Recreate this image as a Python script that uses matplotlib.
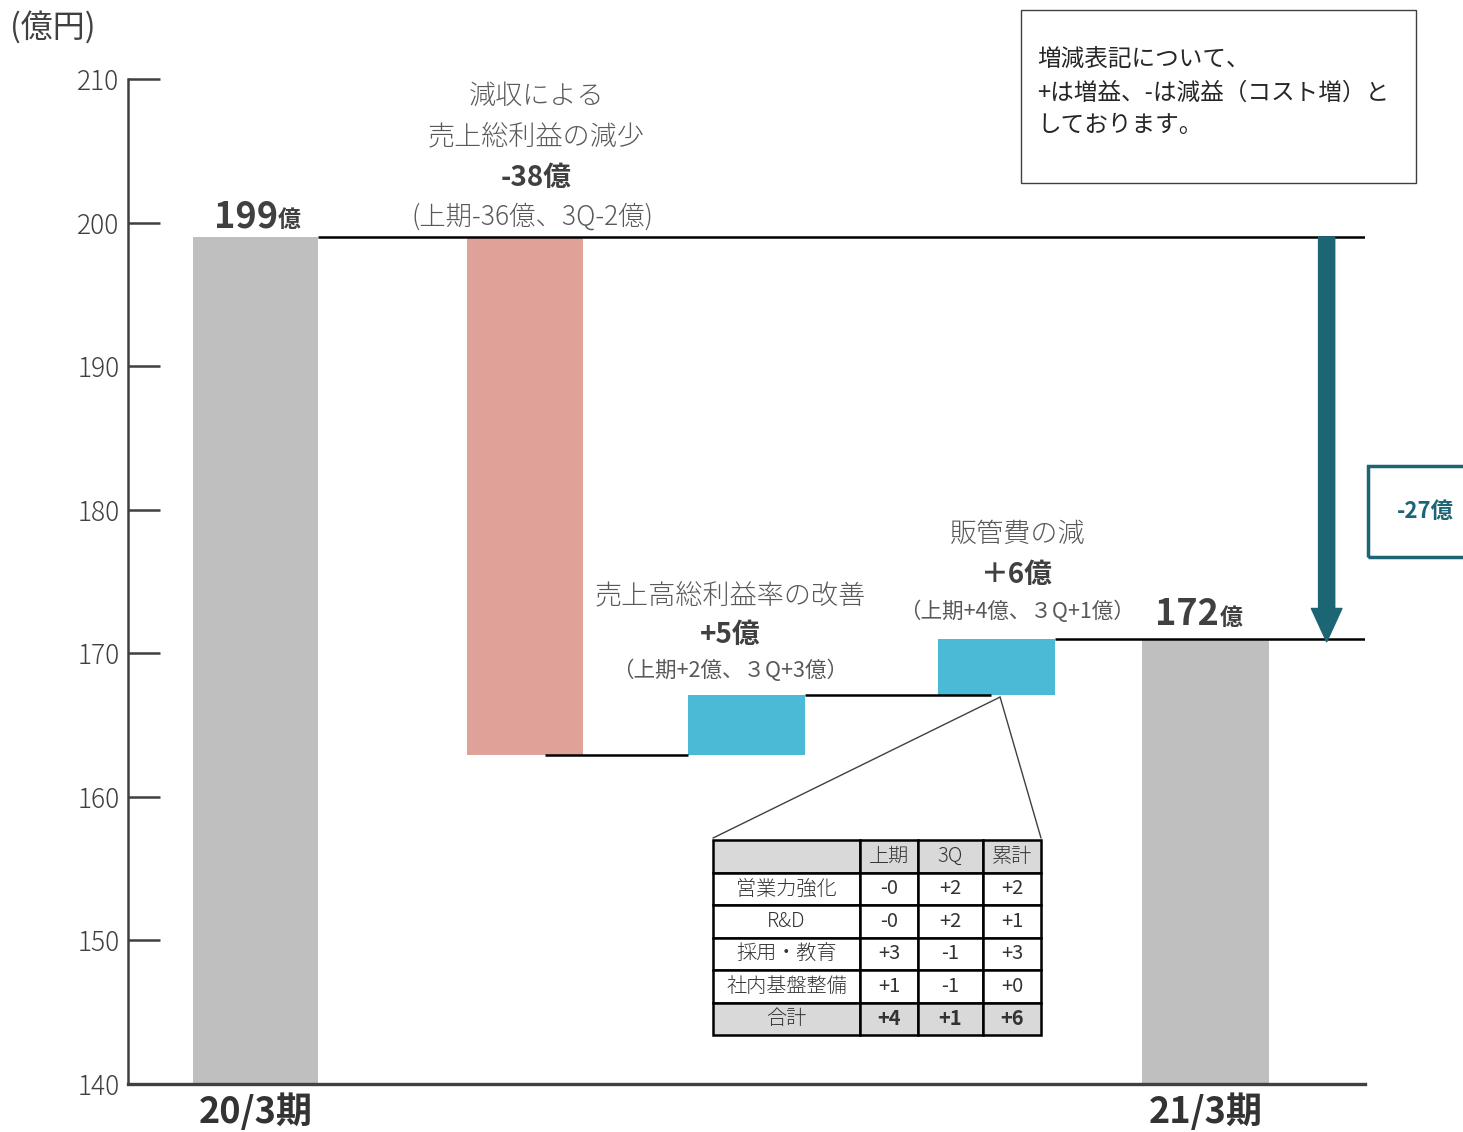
import matplotlib
matplotlib.use('Agg')
import matplotlib.pyplot as plt
from matplotlib.patches import Rectangle, ConnectionPatch

plt.rcParams['font.family'] = ['Noto Sans CJK JP', 'DejaVu Sans']

# data
start_value = 199.0
deltas = [-36.1, 4.2, 3.9]      # drawn heights of the three steps
end_value = 171.0
end_labels = ['199', '172']
period_labels = ['20/3期', '21/3期']
step_titles = [['減収による', '売上総利益の減少'], ['売上高総利益率の改善'], ['販管費の減']]
step_values = ['-38億', '+5億', '＋6億']
step_details = ['(上期-36億、3Q-2億)', '（上期+2億、３Q+3億）', '（上期+4億、３Q+1億）']
total_change = '-27億'
y_ticks = [140, 150, 160, 170, 180, 190, 200, 210]

table_header = ['', '上期', '3Q', '累計']
table_rows = ['営業力強化', 'R&D', '採用・教育', '社内基盤整備', '合計']
table_h1 = ['-0', '-0', '+3', '+1', '+4']
table_3q = ['+2', '+2', '-1', '-1', '+1']
table_total = ['+2', '+1', '+3', '+0', '+6']

note_lines = ['増減表記について、', '+は増益、-は減益（コスト増）と', 'しております。']

# colours
GRAY = '#BFBFBF'
RED = '#E0A199'
CYAN = '#4BBAD6'
TEAL = '#1C6574'
TXT = '#595959'
DARK = '#404040'

W, H = 1463, 1132
fig = plt.figure(figsize=(W / 100, H / 100), dpi=100)
ax = fig.add_axes([128 / W, (H - 1084) / H, 1237 / W, 1005 / H])

# layout
centers = [1.03, 3.21, 5.00, 7.02, 8.71]
widths = [1.01, 0.94, 0.95, 0.95, 1.03]

# waterfall levels
levels = [start_value]
for d in deltas:
    levels.append(levels[-1] + d)

ax.bar(centers[0], start_value - 140, bottom=140, width=widths[0], color=GRAY, zorder=2)
ax.bar(centers[4], end_value - 140, bottom=140, width=widths[4], color=GRAY, zorder=2)
step_colors = [RED, CYAN, CYAN]
for i, d in enumerate(deltas):
    lo = min(levels[i], levels[i + 1])
    ax.bar(centers[i + 1], abs(d), bottom=lo, width=widths[i + 1], color=step_colors[i], zorder=2)

# connector lines
def right(i):
    return centers[i] + widths[i] / 2

def left(i):
    return centers[i] - widths[i] / 2

kw = dict(color='black', lw=1.8, zorder=3)
ax.hlines(levels[0], right(0), 10, **kw)
ax.hlines(levels[1], centers[1] + 0.16, left(2), **kw)
ax.hlines(levels[2], right(2), centers[3] - 0.04, **kw)
ax.hlines(levels[3], right(3), 10, **kw)

# total change arrow
ax.annotate('', xy=(9.69, end_value - 0.2), xytext=(9.69, start_value),
            arrowprops=dict(arrowstyle='simple,head_length=1.2,head_width=1.1,tail_width=0.58',
                            mutation_scale=20, color=TEAL, shrinkA=0, shrinkB=0), zorder=4)

# axes styling
ax.set_xlim(0, 10)
ax.set_ylim(140, 210)
for s in ['top', 'right']:
    ax.spines[s].set_visible(False)
ax.spines['left'].set_linewidth(1.8)
ax.spines['left'].set_color(DARK)
ax.spines['bottom'].set_linewidth(2.4)
ax.spines['bottom'].set_color(DARK)
ax.set_yticks(y_ticks)
ax.tick_params(axis='y', direction='in', length=23, width=1.8, color=DARK,
               labelsize=19, labelcolor=DARK, pad=6)
for lab in ax.get_yticklabels():
    lab.set_fontweight('light')
ax.set_xticks([centers[0], centers[4]])
ax.set_xticklabels(period_labels, fontsize=26, fontweight='bold', color='#333333')
ax.tick_params(axis='x', length=0, pad=7)

# end values
for c, v, lab, dx, dy in [(centers[0], start_value, end_labels[0], 16, 7),
                          (centers[4], end_value, end_labels[1], 10, 10)]:
    ax.annotate(lab, xy=(c, v), xytext=(dx, dy), textcoords='offset points',
                ha='right', va='baseline', fontsize=26, fontweight='bold', color='#404040')
    ax.annotate('億', xy=(c, v), xytext=(dx, dy), textcoords='offset points',
                ha='left', va='baseline', fontsize=16.5, fontweight='bold', color='#404040')

# step annotations
ax.text(3.30, 208.8, step_titles[0][0], ha='center', va='center', fontsize=19.5, fontweight='light', color=TXT)
ax.text(3.30, 206.0, step_titles[0][1], ha='center', va='center', fontsize=19.5, fontweight='light', color=TXT)
ax.text(3.30, 203.1, step_values[0], ha='center', va='center', fontsize=20, fontweight='bold', color='#404040')
ax.text(3.27, 200.4, step_details[0], ha='center', va='center', fontsize=19, fontweight='light', color=TXT)

ax.text(4.87, 174.05, step_titles[1][0], ha='center', va='center', fontsize=19.5, fontweight='light', color=TXT)
ax.text(4.87, 171.3, step_values[1], ha='center', va='center', fontsize=20, fontweight='bold', color='#404040')
ax.text(4.87, 168.8, step_details[1], ha='center', va='center', fontsize=15.5, color=TXT)

ax.text(7.19, 178.3, step_titles[2][0], ha='center', va='center', fontsize=19.5, fontweight='light', color=TXT)
ax.text(7.19, 175.45, step_values[2], ha='center', va='center', fontsize=20, fontweight='bold', color='#404040')
ax.text(7.19, 172.9, step_details[2], ha='center', va='center', fontsize=15.5, color=TXT)

# unit label
fig.text(10 / W, (H - 27) / H, '(億円)', ha='left', va='center', fontsize=23, color=DARK)

# -27 box
fig.add_artist(Rectangle((1368 / W, (H - 557) / H), 0.1, 91 / H, transform=fig.transFigure,
                         fill=False, ec=TEAL, lw=2.5))
fig.text(1425 / W, (H - 511) / H, total_change, ha='center', va='center',
         fontsize=16, fontweight='bold', color=TEAL)

# note box
fig.add_artist(Rectangle((1021 / W, (H - 183) / H), 395 / W, 173 / H, transform=fig.transFigure,
                         fill=False, ec=DARK, lw=1))
for i, line in enumerate(note_lines):
    fig.text(1037 / W, (H - 60 - 33 * i) / H, line, ha='left', va='center',
             fontsize=17, color='#262626')

# breakdown table
tax = fig.add_axes([713 / W, (H - 1035) / H, 328 / W, 195 / H])
tax.axis('off')
cells = [table_header] + [[r, a, b, c] for r, a, b, c in zip(table_rows, table_h1, table_3q, table_total)]
col_w = [147 / 328, 58 / 328, 65 / 328, 58 / 328]
tb = tax.table(cellText=cells, colWidths=col_w, cellLoc='center', bbox=[0, 0, 1, 1])
tb.auto_set_font_size(False)
tb.set_fontsize(14.5)
nrows = len(cells)
for (r, c), cell in tb.get_celld().items():
    cell.set_linewidth(1.8)
    cell.set_edgecolor('black')
    t = cell.get_text()
    t.set_color('#333333')
    if r == 0 or r == nrows - 1:
        cell.set_facecolor('#D9D9D9')
    if r == nrows - 1 and c > 0:
        t.set_fontweight('bold')
    elif c == 0 or r == 0:
        t.set_fontweight('light')

# zoom lines from the SG&A bar to the table
for xb in (0, 1):
    fig.add_artist(ConnectionPatch(xyA=(7.05, levels[2] - 0.15), coordsA=ax.transData,
                                   xyB=(xb, 1.01), coordsB=tax.transAxes,
                                   color=DARK, lw=1))

plt.savefig('out.png', dpi=100)
